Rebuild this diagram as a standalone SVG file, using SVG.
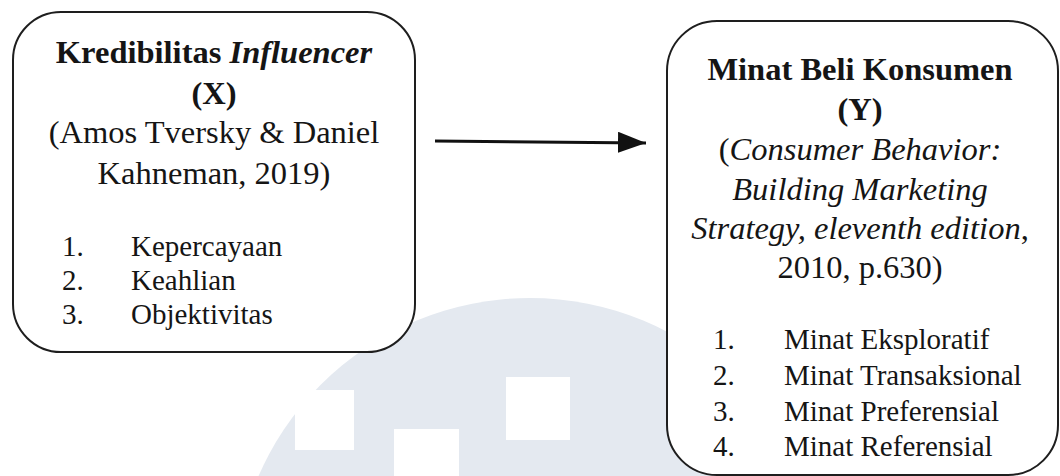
<svg xmlns="http://www.w3.org/2000/svg" width="1060" height="476" viewBox="0 0 1060 476">
  <style>
    .box { fill: #ffffff; stroke: #1e1e1e; stroke-width: 2; }
    .t { font-family: "Liberation Serif", "Times New Roman", serif; fill: #151515; }
    .h { font-size: 32.5px; }
    .b { font-weight: bold; }
    .i { font-style: italic; }
    .li { font-size: 29px; }
    .wm { fill: #e4e9f0; }
    .wmh { fill: #ffffff; }
    .conn { stroke: #111111; stroke-width: 3; fill: none; }
  </style>
  <defs>
    <marker id="arrow" markerUnits="userSpaceOnUse" markerWidth="30" markerHeight="22" refX="28" refY="11" orient="auto">
      <path d="M0,0 L28,11 L0,21 Z" fill="#111111"/>
    </marker>
  </defs>
  <rect width="1060" height="476" fill="#ffffff"/>
  <g id="watermark">
    <circle class="wm" cx="530" cy="594" r="296"/>
    <rect class="wmh" x="295" y="390" width="59" height="60"/>
    <rect class="wmh" x="394" y="429" width="65" height="50"/>
    <rect class="wmh" x="506" y="377" width="64" height="63"/>
  </g>
  <g id="connectors">
    <path class="conn" d="M435,141 L646,143" marker-end="url(#arrow)"/>
  </g>
  <g id="node-x">
    <rect class="box" x="13" y="12" width="402" height="340" rx="48" ry="48"/>
    <text class="t h b" x="214" y="63" text-anchor="middle">Kredibilitas <tspan class="i">Influencer</tspan></text>
    <text class="t h b" x="214" y="104" text-anchor="middle">(X)</text>
    <text class="t h" x="214" y="143" text-anchor="middle">(Amos Tversky &amp; Daniel</text>
    <text class="t h" x="214" y="184" text-anchor="middle">Kahneman, 2019)</text>
    <text class="t li" x="62" y="256">1.</text>
    <text class="t li" x="131" y="256">Kepercayaan</text>
    <text class="t li" x="62" y="290">2.</text>
    <text class="t li" x="131" y="290">Keahlian</text>
    <text class="t li" x="62" y="324">3.</text>
    <text class="t li" x="131" y="324">Objektivitas</text>
  </g>
  <g id="node-y">
    <rect class="box" x="667" y="21" width="391" height="454" rx="50" ry="50"/>
    <text class="t h b" x="860" y="80" text-anchor="middle">Minat Beli Konsumen</text>
    <text class="t h b" x="860" y="120" text-anchor="middle">(Y)</text>
    <text class="t h" x="860" y="160" text-anchor="middle">(<tspan class="i">Consumer Behavior:</tspan></text>
    <text class="t h i" x="860" y="200" text-anchor="middle">Building Marketing</text>
    <text class="t h" x="860" y="239" text-anchor="middle"><tspan class="i">Strategy, eleventh edition</tspan>,</text>
    <text class="t h" x="860" y="278" text-anchor="middle">2010, p.630)</text>
    <text class="t li" x="713" y="349">1.</text>
    <text class="t li" x="784" y="349">Minat Eksploratif</text>
    <text class="t li" x="713" y="385">2.</text>
    <text class="t li" x="784" y="385">Minat Transaksional</text>
    <text class="t li" x="713" y="421">3.</text>
    <text class="t li" x="784" y="421">Minat Preferensial</text>
    <text class="t li" x="713" y="456">4.</text>
    <text class="t li" x="784" y="456">Minat Referensial</text>
  </g>
</svg>
